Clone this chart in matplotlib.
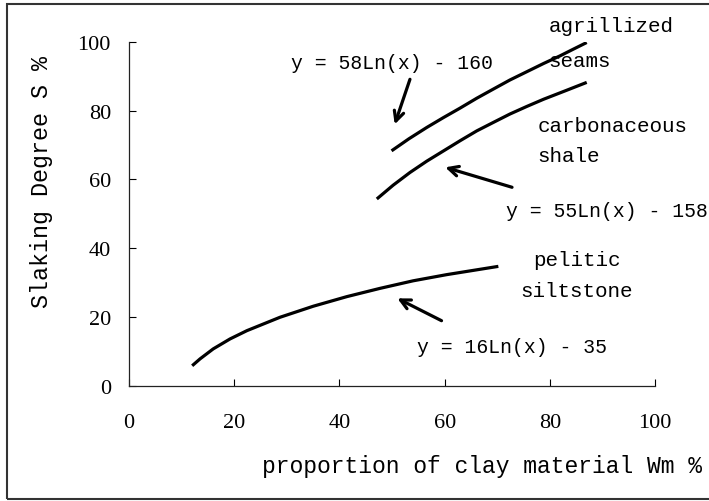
import matplotlib.pyplot as plt
from matplotlib.patches import Rectangle

# curvas
x_seams = [49.9, 53.2, 56.6, 59.8, 62.9, 66.1, 69.3, 72.4, 75.6, 78.8, 81.9, 84.5, 87.0]
y_seams = [68.3, 71.8, 75.1, 78.0, 80.7, 83.6, 86.3, 88.9, 91.3, 93.7, 95.9, 97.9, 99.8]

x_shale = [47.1, 50.2, 53.4, 56.6, 59.8, 63.0, 66.1, 69.3, 72.4, 75.6, 78.8, 83.0, 87.0]
y_shale = [54.3, 58.3, 62.0, 65.3, 68.3, 71.3, 74.1, 76.6, 79.0, 81.2, 83.3, 85.8, 88.2]

x_silt = [12.0, 13.5, 16.0, 19.2, 22.4, 28.7, 35.0, 41.4, 47.7, 54.0, 60.4, 70.2]
y_silt = [5.8, 7.8, 10.7, 13.6, 16.0, 19.9, 23.1, 25.9, 28.3, 30.5, 32.3, 34.7]

ticks = [0, 20, 40, 60, 80, 100]

fuente = 'Liberation Mono'
fuente_num = 'Liberation Serif'

fig = plt.figure(figsize=(7.09, 5.02), dpi=100)
ax = fig.add_axes([0.182, 0.2297, 0.742, 0.685])

for xs, ys in [(x_seams, y_seams), (x_shale, y_shale), (x_silt, y_silt)]:
    ax.plot(xs, ys, color='black', lw=2.3, solid_capstyle='butt', solid_joinstyle='round')

ax.set_xlim(0, 100)
ax.set_ylim(0, 100)
ax.set_xticks(ticks)
ax.set_yticks(ticks)
ax.tick_params(direction='in', length=5, width=0.8, labelsize=16)
ax.tick_params(axis='y', pad=13)
ax.tick_params(axis='x', pad=19.5)
for lbl in ax.get_xticklabels() + ax.get_yticklabels():
    lbl.set_family(fuente_num)
ax.spines['top'].set_visible(False)
ax.spines['right'].set_visible(False)
for s in ['left', 'bottom']:
    ax.spines[s].set_linewidth(0.9)
    ax.spines[s].set_color('#222222')

ax.set_xlabel('proportion of clay material Wm %', family=fuente, fontsize=16.6)
ax.xaxis.set_label_coords(0.67, -0.233)
ax.xaxis.label.set_va('center')
ax.set_ylabel('Slaking Degree S %', family=fuente, fontsize=16.8)
ax.yaxis.set_label_coords(-0.166, 0.594)
ax.yaxis.label.set_va('center')

# textos
estilo = dict(family=fuente, va='center', annotation_clip=False)
ax.annotate('y = 58Ln(x) - 160', (30.8, 94.1), fontsize=14.2, ha='left', **estilo)
ax.annotate('agrillized', (79.7, 104.7), fontsize=15, ha='left', **estilo)
ax.annotate('seams', (79.7, 94.5), fontsize=15, ha='left', **estilo)
ax.annotate('carbonaceous', (77.7, 75.6), fontsize=15, ha='left', **estilo)
ax.annotate('shale', (77.7, 66.9), fontsize=15, ha='left', **estilo)
ax.annotate('y = 55Ln(x) - 158', (71.6, 50.9), fontsize=14.2, ha='left', **estilo)
ax.annotate('pelitic', (85.1, 36.8), fontsize=15, ha='center', **estilo)
ax.annotate('siltstone', (85.1, 27.6), fontsize=15, ha='center', **estilo)
ax.annotate('y = 16Ln(x) - 35', (54.8, 11.3), fontsize=14.2, ha='left', **estilo)

# flechas
flecha = dict(arrowstyle='->,head_length=0.7,head_width=0.35', color='black', lw=2.3,
              shrinkA=0, shrinkB=0)
ax.annotate('', xy=(50.5, 76.0), xytext=(53.4, 89.1), arrowprops=flecha)
ax.annotate('', xy=(60.1, 63.5), xytext=(72.8, 57.7), arrowprops=flecha)
ax.annotate('', xy=(51.0, 25.4), xytext=(59.4, 18.9), arrowprops=flecha)

# marco de la figura
fig.patches.append(Rectangle((7 / 709, 2 / 502), 1.0, 1 - 7 / 502, transform=fig.transFigure,
                             fill=False, edgecolor='#333333', lw=1.5))

plt.savefig('out.png', dpi=100)
